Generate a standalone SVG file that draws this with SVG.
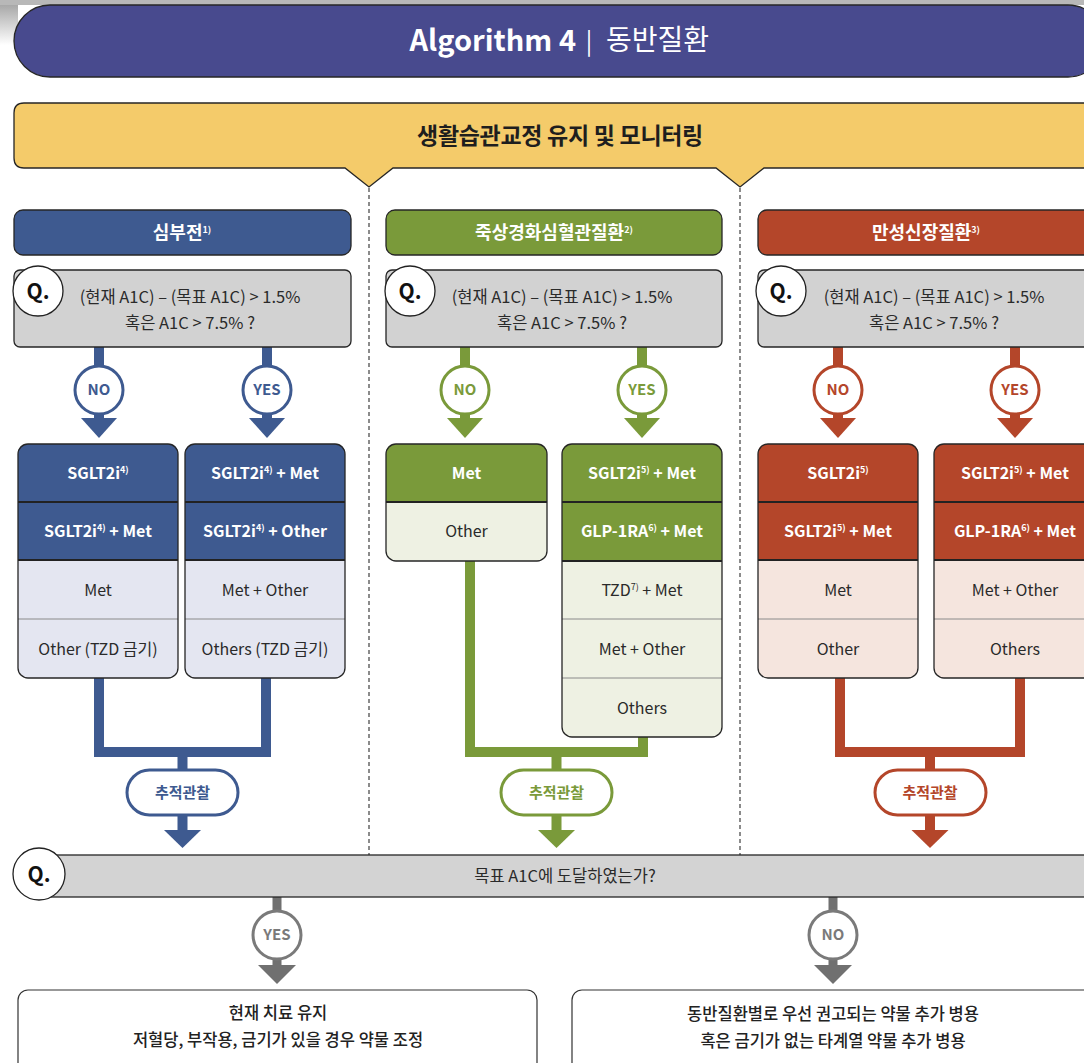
<svg xmlns="http://www.w3.org/2000/svg" width="1084" height="1063" viewBox="0 0 1084 1063">
<defs>
<linearGradient id="edgeFade" x1="0" y1="0" x2="0" y2="1">
<stop offset="0" stop-color="#a8a8a8"/>
<stop offset="1" stop-color="#ffffff"/>
</linearGradient>
<style>
text{font-family:"Noto Sans CJK KR","Noto Sans",sans-serif;}
.ol{stroke:#262626;stroke-width:1.3}
.hd{fill:#fff;font-size:18px;font-weight:700;text-anchor:middle}
.wb{fill:#fff;font-size:16px;font-weight:700;text-anchor:middle}
.dk{fill:#2a2a2a;font-size:16px;text-anchor:middle}
.qt{fill:#2a2a2a;font-size:16.5px;text-anchor:middle}
.ql{fill:#111;font-size:21px;font-weight:700;text-anchor:middle}
.qc{fill:#fff;stroke:#222;stroke-width:1.3}
.lbl{font-size:15px;font-weight:700;text-anchor:middle}
.sepd{stroke:#222;stroke-width:2}
.sepl{stroke:#8a8a8a;stroke-width:1}
.sup{font-size:9px}
.bt{fill:#222;font-size:16.5px;font-weight:500;text-anchor:middle}
.dash{stroke:#666;stroke-width:1.5;stroke-dasharray:4 3;fill:none}
.blue{fill:#3e5a90}.blueS{stroke:#3e5a90}.blueL{fill:#e4e6f1}
.green{fill:#7a9a3a}.greenS{stroke:#7a9a3a}.greenL{fill:#eef1e3}
.red{fill:#b4462a}.redS{stroke:#b4462a}.redL{fill:#f5e5de}
.gray{fill:#707070}.grayS{stroke:#7a7a7a}
.circ{fill:#fff;stroke-width:3}
.pill{fill:#fff;stroke-width:3}
.fork{fill:none;stroke-width:10}
</style>
</defs>

<rect width="1084" height="1063" fill="#fff"/>
<!-- scanned page edge -->
<rect x="0" y="0" width="1084" height="5" fill="#b8b8b8"/>
<rect x="0" y="5" width="18" height="40" fill="url(#edgeFade)"/>

<!-- title banner -->
<g id="title">
<rect x="14" y="5" width="1090" height="72" rx="36" fill="#484a8e" class="ol"/>
<text x="576" y="51" fill="#fff" font-size="29" font-weight="700" text-anchor="end">Algorithm 4</text>
<text x="589" y="50" fill="#fff" font-size="24" text-anchor="middle">|</text>
<text x="606" y="50" fill="#fff" font-size="28" text-anchor="start">동반질환</text>
</g>

<!-- lifestyle banner with notches -->
<g id="lifestyle">
<path d="M14,113 Q14,103 24,103 H1110 V168 H764 L740,187 L716,168 H393 L369,187 L345,168 H24 Q14,168 14,158 Z" fill="#f4cb6a" class="ol"/>
<text x="560" y="144" fill="#1e1e1e" font-size="23" font-weight="700" text-anchor="middle" letter-spacing="-0.3">생활습관교정 유지 및 모니터링</text>
</g>

<!-- column separators -->
<line x1="369" y1="188" x2="369" y2="855" class="dash"/>
<line x1="740" y1="188" x2="740" y2="855" class="dash"/>

<!-- connectors -->
<g id="connectors">
<!-- blue column -->
<rect x="94" y="347" width="10" height="75" class="blue"/>
<rect x="262" y="347" width="10" height="75" class="blue"/>
<polygon points="81,418 117,418 99,438" class="blue"/>
<polygon points="249,418 285,418 267,438" class="blue"/>
<path d="M99,678 V752 H266 V678" class="fork blueS"/>
<path d="M182.5,752 V772 M182.5,813 V834" class="fork blueS"/>
<polygon points="164,830 201,830 182.5,848" class="blue"/>
<!-- green column -->
<rect x="460" y="347" width="10" height="75" class="green"/>
<rect x="637" y="347" width="10" height="75" class="green"/>
<polygon points="447,418 483,418 465,438" class="green"/>
<polygon points="624,418 660,418 642,438" class="green"/>
<path d="M470,561 V752 H643 V737" class="fork greenS"/>
<path d="M556.5,752 V772 M556.5,813 V834" class="fork greenS"/>
<polygon points="538,830 575,830 556.5,848" class="green"/>
<!-- red column -->
<rect x="833" y="347" width="10" height="75" class="red"/>
<rect x="1010" y="347" width="10" height="75" class="red"/>
<polygon points="820,418 856,418 838,438" class="red"/>
<polygon points="997,418 1033,418 1015,438" class="red"/>
<path d="M840,678 V752 H1020 V678" class="fork redS"/>
<path d="M930,752 V772 M930,813 V834" class="fork redS"/>
<polygon points="911.5,830 948.5,830 930,848" class="red"/>
<!-- outcome branches -->
<rect x="272.5" y="897" width="9" height="72" class="gray"/>
<rect x="828.5" y="897" width="9" height="72" class="gray"/>
<polygon points="258,965 296,965 277,984" class="gray"/>
<polygon points="814,965 852,965 833,984" class="gray"/>
</g>

<!-- ===== heart failure column ===== -->
<g id="hf-header">
<rect x="14" y="210" width="337" height="45" rx="9" class="blue ol"/>
<text class="hd" x="182" y="239">심부전<tspan class="sup" dy="-6">1)</tspan></text>
</g>
<g id="hf-question">
<rect x="14" y="270" width="337" height="77" rx="6" fill="#d2d2d2" class="ol"/>
<circle cx="38" cy="291" r="25" class="qc"/>
<text class="ql" x="38" y="299">Q.</text>
<text class="qt" x="190" y="303">(현재 A1C) – (목표 A1C) &gt; 1.5%</text>
<text class="qt" x="190" y="329">혹은 A1C &gt; 7.5% ?</text>
</g>
<g id="hf-no">
<circle cx="99" cy="390" r="24" class="circ blueS"/>
<text class="lbl blue" x="99" y="395">NO</text>
</g>
<g id="hf-yes">
<circle cx="267" cy="390" r="24" class="circ blueS"/>
<text class="lbl blue" x="267" y="395">YES</text>
</g>
<g id="hf-no-box">
<rect x="18" y="444" width="160" height="234" rx="10" class="blueL"/>
<path d="M18,560 V454 Q18,444 28,444 H168 Q178,444 178,454 V560 Z" class="blue"/>
<line x1="18" y1="502" x2="178" y2="502" class="sepd"/>
<line x1="18" y1="560" x2="178" y2="560" class="sepd"/>
<line x1="18" y1="619" x2="178" y2="619" class="sepl"/>
<rect x="18" y="444" width="160" height="234" rx="10" fill="none" class="ol"/>
<text class="wb" x="98" y="479">SGLT2i<tspan class="sup" dy="-6">4)</tspan></text>
<text class="wb" x="98" y="537">SGLT2i<tspan class="sup" dy="-6">4)</tspan><tspan dy="6"> + Met</tspan></text>
<text class="dk" x="98" y="596">Met</text>
<text class="dk" x="98" y="655">Other (TZD 금기)</text>
</g>
<g id="hf-yes-box">
<rect x="185" y="444" width="160" height="234" rx="10" class="blueL"/>
<path d="M185,560 V454 Q185,444 195,444 H335 Q345,444 345,454 V560 Z" class="blue"/>
<line x1="185" y1="502" x2="345" y2="502" class="sepd"/>
<line x1="185" y1="560" x2="345" y2="560" class="sepd"/>
<line x1="185" y1="619" x2="345" y2="619" class="sepl"/>
<rect x="185" y="444" width="160" height="234" rx="10" fill="none" class="ol"/>
<text class="wb" x="265" y="479">SGLT2i<tspan class="sup" dy="-6">4)</tspan><tspan dy="6"> + Met</tspan></text>
<text class="wb" x="265" y="537">SGLT2i<tspan class="sup" dy="-6">4)</tspan><tspan dy="6"> + Other</tspan></text>
<text class="dk" x="265" y="596">Met + Other</text>
<text class="dk" x="265" y="655">Others (TZD 금기)</text>
</g>
<g id="hf-followup">
<rect x="127" y="770" width="111" height="45" rx="22.5" class="pill blueS"/>
<text class="lbl blue" x="182.5" y="798">추적관찰</text>
</g>

<!-- ===== ASCVD column ===== -->
<g id="ascvd-header">
<rect x="386" y="210" width="336" height="45" rx="9" class="green ol"/>
<text class="hd" x="554" y="239">죽상경화심혈관질환<tspan class="sup" dy="-6">2)</tspan></text>
</g>
<g id="ascvd-question">
<rect x="386" y="270" width="336" height="77" rx="6" fill="#d2d2d2" class="ol"/>
<circle cx="410" cy="291" r="25" class="qc"/>
<text class="ql" x="410" y="299">Q.</text>
<text class="qt" x="562" y="303">(현재 A1C) – (목표 A1C) &gt; 1.5%</text>
<text class="qt" x="562" y="329">혹은 A1C &gt; 7.5% ?</text>
</g>
<g id="ascvd-no">
<circle cx="465" cy="390" r="24" class="circ greenS"/>
<text class="lbl green" x="465" y="395">NO</text>
</g>
<g id="ascvd-yes">
<circle cx="642" cy="390" r="24" class="circ greenS"/>
<text class="lbl green" x="642" y="395">YES</text>
</g>
<g id="ascvd-no-box">
<rect x="386" y="444" width="161" height="117" rx="10" class="greenL"/>
<path d="M386,502 V454 Q386,444 396,444 H537 Q547,444 547,454 V502 Z" class="green"/>
<line x1="386" y1="502" x2="547" y2="502" class="sepd"/>
<rect x="386" y="444" width="161" height="117" rx="10" fill="none" class="ol"/>
<text class="wb" x="466.5" y="479">Met</text>
<text class="dk" x="466.5" y="537">Other</text>
</g>
<g id="ascvd-yes-box">
<rect x="562" y="444" width="160" height="293" rx="10" class="greenL"/>
<path d="M562,561 V454 Q562,444 572,444 H712 Q722,444 722,454 V561 Z" class="green"/>
<line x1="562" y1="502" x2="722" y2="502" class="sepd"/>
<line x1="562" y1="561" x2="722" y2="561" class="sepd"/>
<line x1="562" y1="619" x2="722" y2="619" class="sepl"/>
<line x1="562" y1="678" x2="722" y2="678" class="sepl"/>
<rect x="562" y="444" width="160" height="293" rx="10" fill="none" class="ol"/>
<text class="wb" x="642" y="479">SGLT2i<tspan class="sup" dy="-6">5)</tspan><tspan dy="6"> + Met</tspan></text>
<text class="wb" x="642" y="537">GLP-1RA<tspan class="sup" dy="-6">6)</tspan><tspan dy="6"> + Met</tspan></text>
<text class="dk" x="642" y="596">TZD<tspan class="sup" dy="-6">7)</tspan><tspan dy="6"> + Met</tspan></text>
<text class="dk" x="642" y="655">Met + Other</text>
<text class="dk" x="642" y="714">Others</text>
</g>
<g id="ascvd-followup">
<rect x="501" y="770" width="111" height="45" rx="22.5" class="pill greenS"/>
<text class="lbl green" x="556.5" y="798">추적관찰</text>
</g>

<!-- ===== CKD column ===== -->
<g id="ckd-header">
<rect x="758" y="210" width="337" height="45" rx="9" class="red ol"/>
<text class="hd" x="926" y="239">만성신장질환<tspan class="sup" dy="-6">3)</tspan></text>
</g>
<g id="ckd-question">
<rect x="758" y="270" width="337" height="77" rx="6" fill="#d2d2d2" class="ol"/>
<circle cx="781" cy="291" r="25" class="qc"/>
<text class="ql" x="781" y="299">Q.</text>
<text class="qt" x="934" y="303">(현재 A1C) – (목표 A1C) &gt; 1.5%</text>
<text class="qt" x="934" y="329">혹은 A1C &gt; 7.5% ?</text>
</g>
<g id="ckd-no">
<circle cx="838" cy="390" r="24" class="circ redS"/>
<text class="lbl red" x="838" y="395">NO</text>
</g>
<g id="ckd-yes">
<circle cx="1015" cy="390" r="24" class="circ redS"/>
<text class="lbl red" x="1015" y="395">YES</text>
</g>
<g id="ckd-no-box">
<rect x="758" y="444" width="160" height="234" rx="10" class="redL"/>
<path d="M758,560 V454 Q758,444 768,444 H908 Q918,444 918,454 V560 Z" class="red"/>
<line x1="758" y1="502" x2="918" y2="502" class="sepd"/>
<line x1="758" y1="560" x2="918" y2="560" class="sepd"/>
<line x1="758" y1="619" x2="918" y2="619" class="sepl"/>
<rect x="758" y="444" width="160" height="234" rx="10" fill="none" class="ol"/>
<text class="wb" x="838" y="479">SGLT2i<tspan class="sup" dy="-6">5)</tspan></text>
<text class="wb" x="838" y="537">SGLT2i<tspan class="sup" dy="-6">5)</tspan><tspan dy="6"> + Met</tspan></text>
<text class="dk" x="838" y="596">Met</text>
<text class="dk" x="838" y="655">Other</text>
</g>
<g id="ckd-yes-box">
<rect x="934" y="444" width="162" height="234" rx="10" class="redL"/>
<path d="M934,560 V454 Q934,444 944,444 H1086 Q1096,444 1096,454 V560 Z" class="red"/>
<line x1="934" y1="502" x2="1096" y2="502" class="sepd"/>
<line x1="934" y1="560" x2="1096" y2="560" class="sepd"/>
<line x1="934" y1="619" x2="1096" y2="619" class="sepl"/>
<rect x="934" y="444" width="162" height="234" rx="10" fill="none" class="ol"/>
<text class="wb" x="1015" y="479">SGLT2i<tspan class="sup" dy="-6">5)</tspan><tspan dy="6"> + Met</tspan></text>
<text class="wb" x="1015" y="537">GLP-1RA<tspan class="sup" dy="-6">6)</tspan><tspan dy="6"> + Met</tspan></text>
<text class="dk" x="1015" y="596">Met + Other</text>
<text class="dk" x="1015" y="655">Others</text>
</g>
<g id="ckd-followup">
<rect x="875" y="770" width="111" height="45" rx="22.5" class="pill redS"/>
<text class="lbl red" x="930" y="798">추적관찰</text>
</g>

<!-- ===== target check ===== -->
<g id="target-question">
<rect x="30" y="855" width="1080" height="42" fill="#d3d3d3" class="ol"/>
<circle cx="39" cy="874" r="26" class="qc"/>
<text class="ql" x="39" y="882">Q.</text>
<text class="qt" x="565" y="882">목표 A1C에 도달하였는가?</text>
</g>
<g id="target-yes">
<circle cx="277" cy="935" r="24" class="circ grayS" stroke-width="2.5"/>
<text class="lbl" fill="#7a7a7a" x="277" y="940">YES</text>
</g>
<g id="target-no">
<circle cx="833" cy="935" r="24" class="circ grayS" stroke-width="2.5"/>
<text class="lbl" fill="#7a7a7a" x="833" y="940">NO</text>
</g>
<g id="keep-therapy">
<rect x="18" y="990" width="519" height="110" rx="10" fill="#fff" stroke="#333" stroke-width="1.2"/>
<text class="bt" x="278" y="1019">현재 치료 유지</text>
<text class="bt" x="278" y="1046">저혈당, 부작용, 금기가 있을 경우 약물 조정</text>
</g>
<g id="add-therapy">
<rect x="572" y="990" width="540" height="110" rx="10" fill="#fff" stroke="#333" stroke-width="1.2"/>
<text class="bt" x="833" y="1020">동반질환별로 우선 권고되는 약물 추가 병용</text>
<text class="bt" x="833" y="1047">혹은 금기가 없는 타계열 약물 추가 병용</text>
</g>
</svg>
